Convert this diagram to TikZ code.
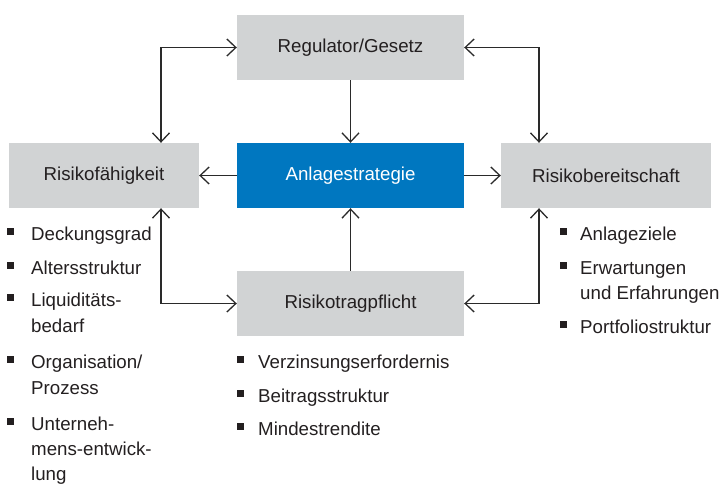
\documentclass[tikz,border=0pt]{standalone}
\usepackage{fontspec}
\setmainfont{Liberation Sans}
\usetikzlibrary{arrows.meta}
\definecolor{boxgray}{HTML}{D1D3D4}
\definecolor{boxblue}{HTML}{0077C0}
\definecolor{ink}{HTML}{231F20}
\definecolor{lineink}{HTML}{2A2A2A}
\begin{document}
\begin{tikzpicture}[x=1pt,y=-1pt,
  txt/.style={font=\fontsize{18.7}{22}\selectfont},
  box/.style={txt, rectangle, fill=boxgray, text=ink, inner sep=0pt, minimum height=65pt},
  bluebox/.style={box, fill=boxblue, text=white},
  conn/.style={draw=lineink, line width=1.3pt, arrows={-{Straight Barb[length=9pt,width=17pt,line width=1.3pt]}}},
  bconn/.style={conn, arrows={{Straight Barb[length=9pt,width=17pt,line width=1.3pt]}-{Straight Barb[length=9pt,width=17pt,line width=1.3pt]}}},
  item/.style={txt, anchor=base west, text=ink, inner sep=0pt},
  bul/.style={rectangle, fill=ink, minimum size=7pt, inner sep=0pt}]
\useasboundingbox (0,0) rectangle (728,485);

% boxes
\node[box, minimum width=227pt] (reg) at (350.5,47.5) {Regulator/Gesetz};
\node[bluebox, minimum width=227pt] (strat) at (350.5,175.5) {Anlagestrategie};
\node[box, minimum width=190pt] (fah) at (104,175.5) {Risikofähigkeit};
\node[box, minimum width=210pt] (ber) at (606,175.5) {Risikobereitschaft};
\node[box, minimum width=227pt] (trag) at (350.5,303.5) {Risikotragpflicht};

% connector columns
\coordinate (cl) at (161,0);
\coordinate (cr) at (539,0);

\draw[bconn] (fah.north -| cl) |- (reg.west);
\draw[bconn] (reg.east) -| (ber.north -| cr);
\draw[bconn] (fah.south -| cl) |- (trag.west);
\draw[bconn] (trag.east) -| (ber.south -| cr);
\draw[conn] (reg.south) -- (strat.north);
\draw[conn] (strat.west) -- (fah.east);
\draw[conn] (strat.east) -- (ber.west);
\draw[conn] (trag.north) -- (strat.south);

% left list
\node[bul] (lb1) at (10.5,231.5) {};
\node[item] (l1) at (31,240) {Deckungsgrad};
\node[bul] (lb2) at (10.5,265.5) {};
\node[item] (l2) at (31,274) {Altersstruktur};
\node[bul] (lb3) at (10.5,297.5) {};
\node[item] (l3a) at (31,306) {Liquiditäts-};
\node[item] (l3b) at (31,332) {bedarf};
\node[bul] (lb4) at (10.5,359.5) {};
\node[item] (l4a) at (31,368) {Organisation/};
\node[item] (l4b) at (31,394) {Prozess};
\node[bul] (lb5) at (10.5,421.5) {};
\node[item] (l5a) at (31,430) {Unterneh-};
\node[item] (l5b) at (31,455) {mens-entwick-};
\node[item] (l5c) at (31,480) {lung};

% middle list
\node[bul] (mb1) at (240.5,359.5) {};
\node[item] (m1) at (258,368) {Verzinsungserfordernis};
\node[bul] (mb2) at (240.5,393.5) {};
\node[item] (m2) at (258,402) {Beitragsstruktur};
\node[bul] (mb3) at (240.5,426.5) {};
\node[item] (m3) at (258,435) {Mindestrendite};

% right list
\node[bul] (rb1) at (563.5,231.5) {};
\node[item] (r1) at (580,240) {Anlageziele};
\node[bul] (rb2) at (563.5,265.5) {};
\node[item] (r2a) at (580,274) {Erwartungen};
\node[item] (r2b) at (580,299) {und Erfahrungen};
\node[bul] (rb3) at (563.5,324.5) {};
\node[item] (r3) at (580,333) {Portfoliostruktur};
\end{tikzpicture}
\end{document}
